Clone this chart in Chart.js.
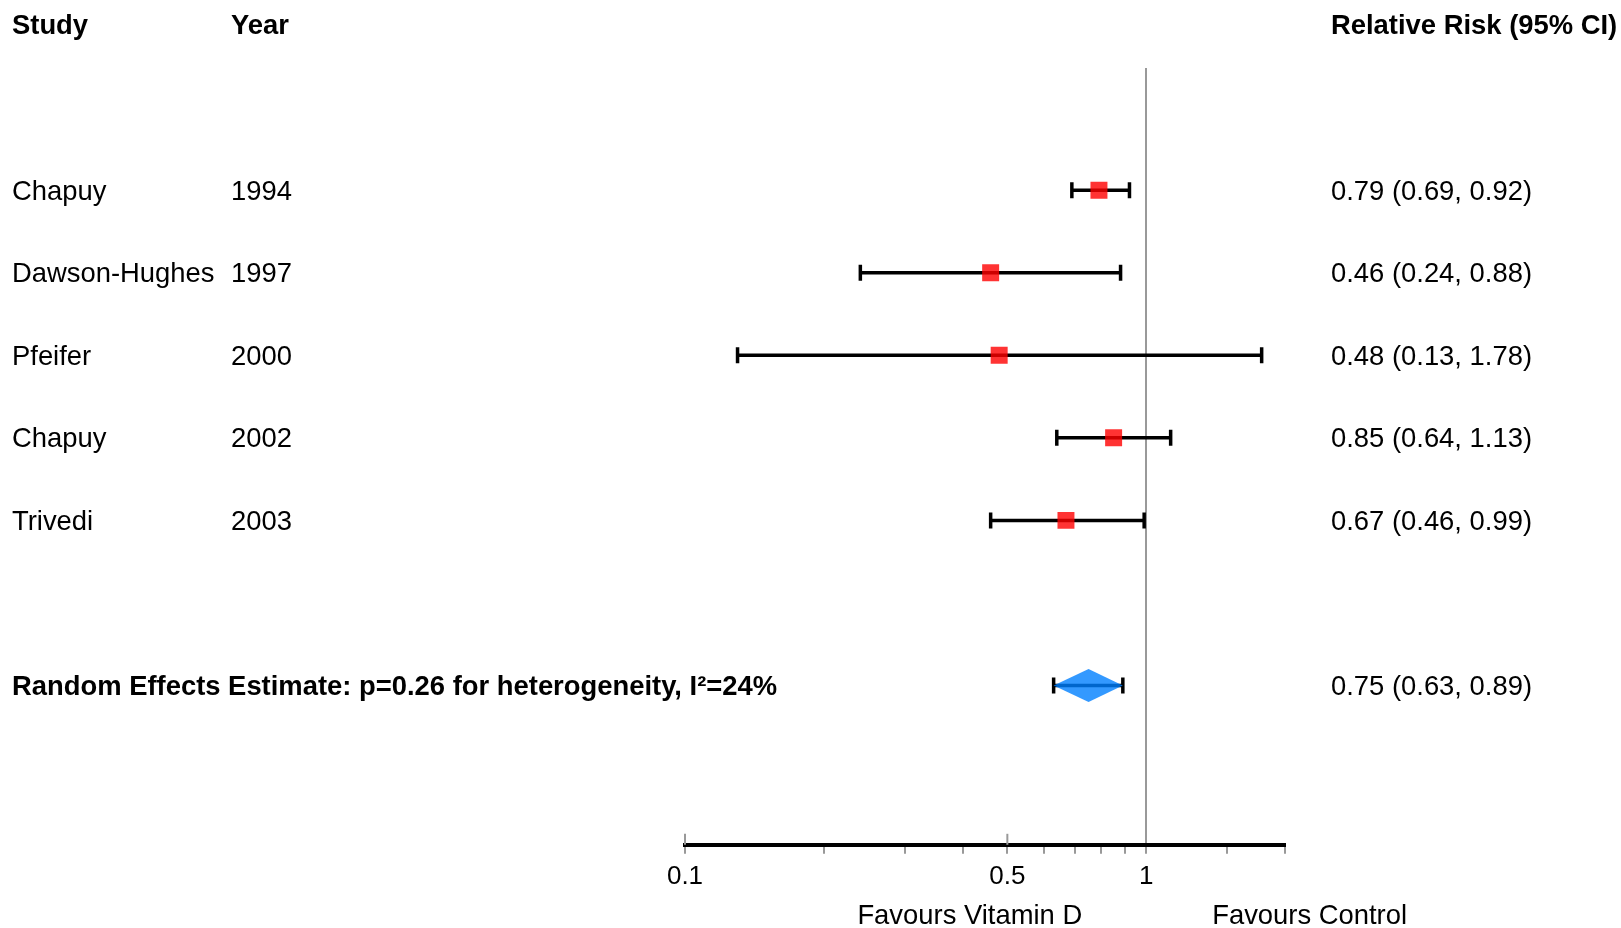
<!DOCTYPE html>
<html>
<head>
<meta charset="utf-8">
<script src="https://cdn.jsdelivr.net/npm/chart.js@4.4.1/dist/chart.umd.min.js"></script>
<style>
  body { margin: 0; background: #fff; }
  #wrap { width: 1621px; height: 928px; }
</style>
</head>
<body>
<div id="wrap"><canvas id="forest" width="1621" height="928"></canvas></div>
<script>
// studies, top to bottom
var studies = ['Chapuy', 'Dawson-Hughes', 'Pfeifer', 'Chapuy', 'Trivedi'];
var years = ['1994', '1997', '2000', '2002', '2003'];
var rr = [0.79, 0.46, 0.48, 0.85, 0.67];
var lower = [0.69, 0.24, 0.13, 0.64, 0.46];
var upper = [0.92, 0.88, 1.78, 1.13, 0.99];
var rows = [2, 3, 4, 5, 6];

// pooled estimate
var pooledLabel = 'Random Effects Estimate: p=0.26 for heterogeneity, I\u00b2=24%';
var pooled = [0.75];
var pooledLower = [0.63];
var pooledUpper = [0.89];
var pooledRow = 8;

var xTickLabels = [0.1, 0.5, 1];

var FONT = '"Liberation Sans", Arial, Helvetica, sans-serif';
var FSIZE = 27.4;
var diamondHalf = 0.2;

function fmt(v) { return v.toFixed(2); }

var datasets = [];

// confidence interval lines with end caps
rows.forEach(function (r, i) {
  datasets.push({
    data: [{x: lower[i], y: r}, {x: upper[i], y: r}],
    showLine: true,
    borderColor: '#000',
    borderWidth: 3.5,
    pointStyle: 'line',
    rotation: 90,
    pointRadius: 8,
    pointBorderColor: '#000',
    pointBorderWidth: 3.5,
    order: 2
  });
});

// study estimates
datasets.push({
  data: rows.map(function (r, i) { return {x: rr[i], y: r}; }),
  pointStyle: 'rect',
  pointRadius: 12,
  pointBackgroundColor: 'rgba(255,0,0,0.8)',
  pointBorderWidth: 0,
  order: 0
});

// pooled CI line
datasets.push({
  data: [{x: pooledLower[0], y: pooledRow}, {x: pooledUpper[0], y: pooledRow}],
  showLine: true,
  borderColor: '#000',
  borderWidth: 3.5,
  pointStyle: 'line',
  rotation: 90,
  pointRadius: 8,
  pointBorderColor: '#000',
  pointBorderWidth: 3.5,
  order: 2
});

// pooled diamond
datasets.push({
  data: [
    {x: pooledLower[0], y: pooledRow},
    {x: pooled[0], y: pooledRow - diamondHalf},
    {x: pooledUpper[0], y: pooledRow},
    {x: pooled[0], y: pooledRow + diamondHalf},
    {x: pooledLower[0], y: pooledRow}
  ],
  showLine: true,
  fill: 'shape',
  backgroundColor: 'rgba(0,128,255,0.8)',
  borderWidth: 0,
  pointRadius: 0,
  tension: 0,
  order: 0
});

function isLabelled(v) {
  return xTickLabels.some(function (t) { return Math.abs(t - v) < 1e-9; });
}

var forestText = {
  id: 'forestText',
  afterDraw: function (chart) {
    var ctx = chart.ctx;
    var y = chart.scales.y;
    var x = chart.scales.x;
    var dy = 2;
    ctx.save();
    ctx.fillStyle = '#000';
    ctx.textBaseline = 'middle';

    // header
    ctx.font = 'bold ' + FSIZE + 'px ' + FONT;
    var hy = y.getPixelForValue(0) + 1;
    ctx.fillText('Study', 12, hy);
    ctx.fillText('Year', 231, hy);
    ctx.fillText('Relative Risk (95% CI)', 1331, hy);

    ctx.font = FSIZE + 'px ' + FONT;
    rows.forEach(function (r, i) {
      var py = y.getPixelForValue(r) + dy;
      ctx.fillText(studies[i], 12, py);
      ctx.fillText(years[i], 231, py);
      ctx.fillText(fmt(rr[i]) + ' (' + fmt(lower[i]) + ', ' + fmt(upper[i]) + ')', 1331, py);
    });

    var pp = y.getPixelForValue(pooledRow) + dy;
    ctx.font = 'bold ' + FSIZE + 'px ' + FONT;
    ctx.fillText(pooledLabel, 12, pp);
    ctx.font = FSIZE + 'px ' + FONT;
    ctx.fillText(fmt(pooled[0]) + ' (' + fmt(pooledLower[0]) + ', ' + fmt(pooledUpper[0]) + ')', 1331, pp);

    // major ticks above the axis line
    var axisY = chart.chartArea.bottom;
    ctx.strokeStyle = '#999';
    ctx.lineWidth = 2;
    [0.1, 0.5].forEach(function (v) {
      var px = x.getPixelForValue(v);
      ctx.beginPath();
      ctx.moveTo(px, axisY - 11);
      ctx.lineTo(px, axisY);
      ctx.stroke();
    });

    // favours labels
    var ref = x.getPixelForValue(1);
    ctx.fillStyle = '#000';
    ctx.textAlign = 'right';
    ctx.fillText('Favours Vitamin D', ref - 64, 916);
    ctx.textAlign = 'left';
    ctx.fillText('Favours Control', ref + 66, 916);
    ctx.restore();
  }
};

new Chart(document.getElementById('forest'), {
  type: 'scatter',
  data: { datasets: datasets },
  options: {
    responsive: false,
    devicePixelRatio: 1,
    animation: false,
    layout: { padding: { left: 685, right: 336, top: 68, bottom: 29 } },
    plugins: { legend: { display: false }, tooltip: { enabled: false } },
    scales: {
      x: {
        type: 'logarithmic',
        min: 0.1,
        max: 2,
        border: { display: true, color: '#000', width: 4, z: 1 },
        grid: {
          drawOnChartArea: true,
          drawTicks: true,
          tickLength: 9,
          lineWidth: 2,
          color: function (c) { return c.tick && Math.abs(c.tick.value - 1) < 1e-9 ? '#999' : 'rgba(0,0,0,0)'; },
          tickColor: '#999'
        },
        ticks: {
          autoSkip: false,
          maxRotation: 0,
          padding: 7,
          color: '#000',
          font: { family: FONT, size: 26 },
          callback: function (v) { return isLabelled(v) ? String(v) : ''; }
        }
      },
      y: {
        type: 'linear',
        reverse: true,
        min: 0.52,
        max: 9.93,
        display: false
      }
    }
  },
  plugins: [forestText]
});
</script>
</body>
</html>
